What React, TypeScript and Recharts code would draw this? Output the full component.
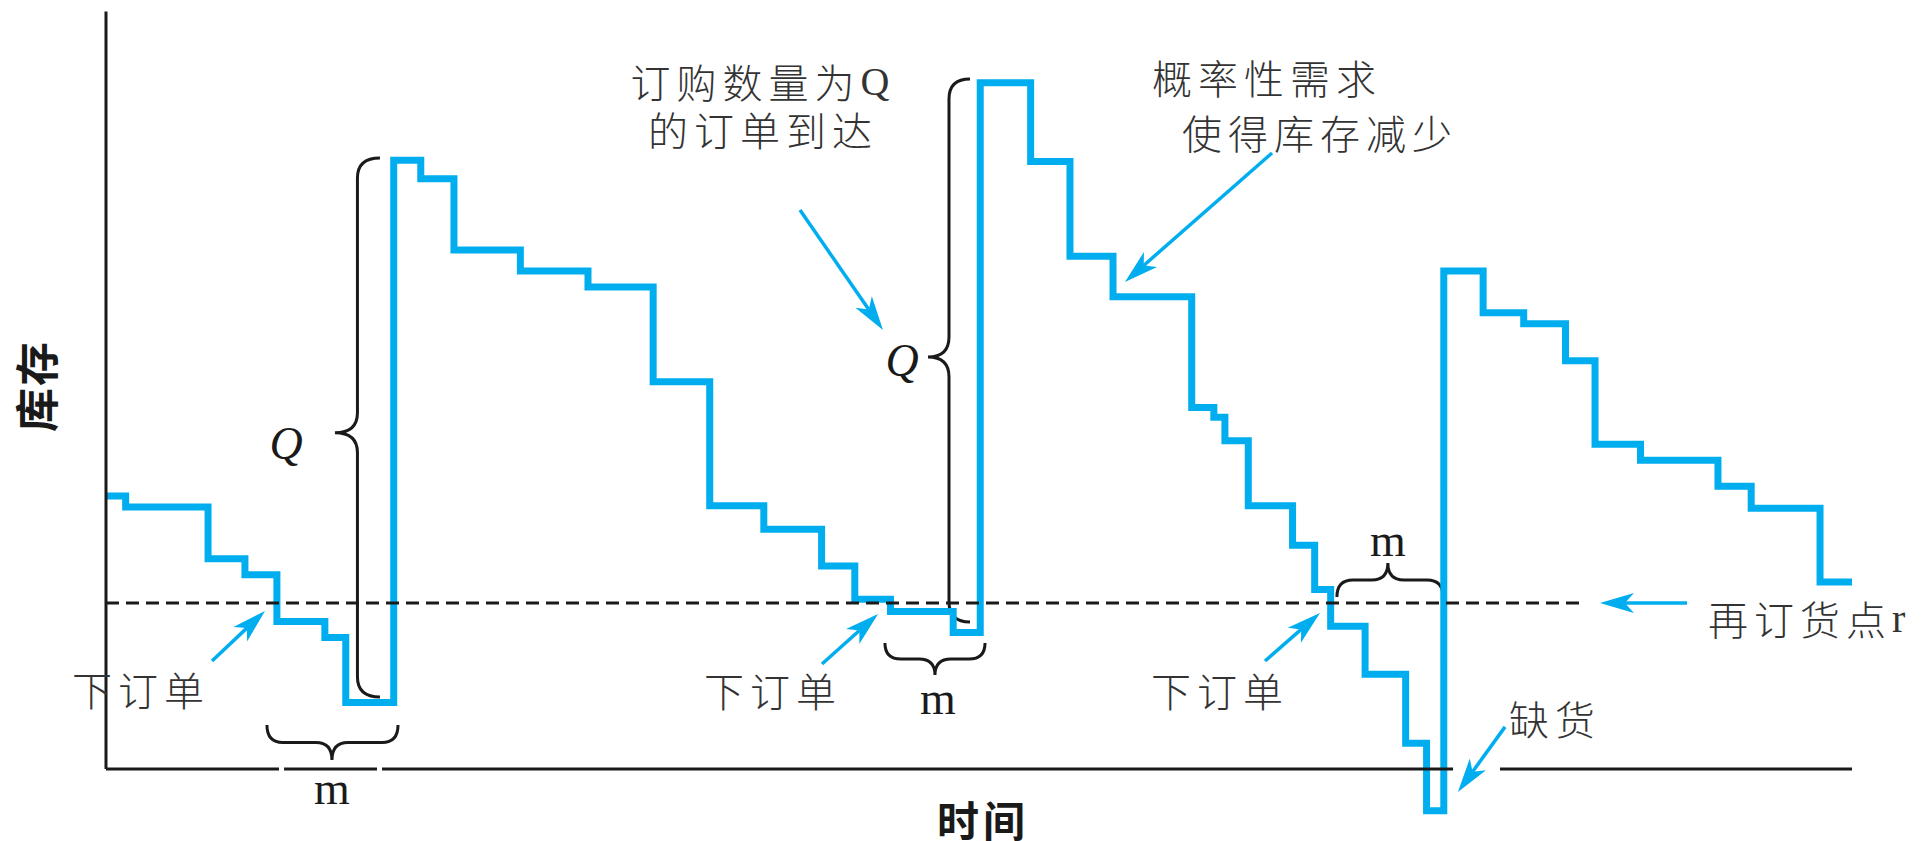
import { LineChart, Line, XAxis, YAxis, ReferenceLine, ReferenceArea, ReferenceDot } from 'recharts'

const W = 1928
const H = 841

// 时间（横轴单位）与库存（纵轴单位）
const timeT = [
  0, 1.6, 8.3, 11.3, 13.9, 17.8, 19.5, 23.4, 25.6, 28.3, 33.7, 39.2, 44.5, 49.1, 53.5, 58.2,
  60.9, 63.8, 68.9, 71.1, 75.2, 78.4, 81.9, 88.3, 90.1, 91.0, 92.9, 96.5, 98.3, 99.6, 102.4,
  105.7, 107.4, 108.8, 112.0, 115.3, 118.7, 121.1, 124.8, 131.1, 133.8, 139.4, 142.0,
]
const stockV = [
  22.2, 21.3, 17.1, 15.8, 12.0, 10.7, 5.4, 49.5, 48.0, 42.2, 40.5, 39.2, 31.5, 21.4, 19.5, 16.5,
  13.8, 12.8, 11.1, 55.8, 49.4, 41.7, 38.4, 29.4, 28.6, 26.7, 21.4, 18.2, 14.6, 11.6, 7.7,
  2.1, -3.4, 40.5, 37.1, 36.2, 33.2, 26.4, 25.1, 23.0, 21.2, 15.2, 15.2,
]
const reorderPoint = 13.5
const axisTop = 61.6
const axisEnd = 142
// x axis is broken where labels sit
const xAxisSpans = [
  [0, 14.07],
  [14.48, 22.04],
  [22.45, 109.55],
  [113.37, axisEnd],
]
const reorderEnd = 120.1

const X_DOMAIN = [-8.62, 148.18]
const Y_DOMAIN = [-5.86, 62.54]

const BLUE = '#00aeef'
const INK = '#1a1a1a'
const TEXT = '#333'
const CJK = "'Noto Sans CJK SC', sans-serif"
const SERIF = "'Liberation Serif', 'DejaVu Serif', serif"

type Arrow = { from: [number, number]; to: [number, number] }
const arrows: Arrow[] = [
  { from: [8.62, 8.78], to: [12.93, 12.85] },
  { from: [58.23, 8.54], to: [62.79, 12.61] },
  { from: [94.26, 8.78], to: [98.73, 12.69] },
  { from: [56.44, 45.46], to: [63.19, 35.7] },
  { from: [94.83, 50.1], to: [82.87, 39.61] },
  { from: [113.78, 3.42], to: [109.95, -1.87] },
  { from: [128.58, reorderPoint], to: [121.5, reorderPoint] },
]

type Brace = { x1: number; x2: number; y1: number; y2: number; dir: 'left' | 'down' | 'up'; tip: number }
const braces: Brace[] = [
  { x1: 18.62, x2: 22.28, y1: 5.86, y2: 49.69, dir: 'left', tip: 0.51 },
  { x1: 66.85, x2: 70.27, y1: 11.96, y2: 56.12, dir: 'left', tip: 0.512 },
  { x1: 13.09, x2: 23.75, y1: 0.73, y2: 3.58, dir: 'down', tip: 0.496 },
  { x1: 63.35, x2: 71.49, y1: 7.64, y2: 10.25, dir: 'down', tip: 0.5 },
  { x1: 100.11, x2: 108.74, y1: 13.99, y2: 16.75, dir: 'up', tip: 0.48 },
]

const orderLabels = [
  [2.85, 6.5],
  [54.24, 6.42],
  [90.6, 6.42],
]
const mLabels = [
  [18.38, -1.55],
  [67.66, 5.77],
  [104.26, 18.62],
]
const qLabels = [
  [14.64, 26.51],
  [64.74, 33.18],
]

const data = timeT.map((t, i) => ({ t, v: stockV[i] }))

const arrowShape = (p: any) => {
  const { x1, y1, x2, y2 } = p
  const dx = x2 - x1
  const dy = y2 - y1
  const len = Math.hypot(dx, dy) || 1
  const ux = dx / len
  const uy = dy / len
  const nx = -uy
  const ny = ux
  const hl = 34
  const hw = 10
  const notch = 9
  const bx = x2 - ux * hl
  const by = y2 - uy * hl
  const mx = x2 - ux * (hl - notch)
  const my = y2 - uy * (hl - notch)
  return (
    <g>
      <line x1={x1} y1={y1} x2={mx} y2={my} stroke={BLUE} strokeWidth={3.5} />
      <path
        d={`M${x2},${y2} L${bx + nx * hw},${by + ny * hw} L${mx},${my} L${bx - nx * hw},${by - ny * hw} Z`}
        fill={BLUE}
      />
    </g>
  )
}

const braceShape = (dir: Brace['dir'], tip: number) => (p: any) => {
  const { x, y, width: w, height: h } = p
  let d = ''
  if (dir === 'left') {
    const r = 20
    const R = x + w
    const S = x + w * 0.5
    const B = y + h
    const ty = y + h * tip
    d = `M${R},${y} Q${S},${y} ${S},${y + r} L${S},${ty - r} Q${S},${ty} ${x},${ty} Q${S},${ty} ${S},${ty + r} L${S},${B - r} Q${S},${B} ${R},${B}`
  } else {
    const r = 16
    const R = x + w
    const tx = x + w * tip
    const end = dir === 'down' ? y : y + h
    const tp = dir === 'down' ? y + h : y
    const M = (end + tp) / 2
    d = `M${x},${end} Q${x},${M} ${x + r},${M} L${tx - r},${M} Q${tx},${M} ${tx},${tp} Q${tx},${M} ${tx + r},${M} L${R - r},${M} Q${R},${M} ${R},${end}`
  }
  return <path d={d} fill="none" stroke={INK} strokeWidth={3} />
}

const textAt = (content: React.ReactNode, opts: any = {}) => (p: any) => (
  <text
    x={p.cx}
    y={p.cy}
    textAnchor={opts.anchor ?? 'middle'}
    dominantBaseline="central"
    fontFamily={opts.family ?? CJK}
    fontSize={opts.size ?? 40}
    fontWeight={opts.weight ?? 300}
    fontStyle={opts.style ?? 'normal'}
    letterSpacing={opts.spacing ?? 6}
    fill={opts.fill ?? TEXT}
    transform={opts.rotate ? `rotate(${opts.rotate} ${p.cx} ${p.cy})` : undefined}
  >
    {content}
  </text>
)

export default function App() {
  return (
    <div style={{ position: 'absolute', left: 0, top: 0, width: W, height: H, background: '#fff' }}>
      <LineChart width={W} height={H} data={data} margin={{ top: 0, right: 0, bottom: 0, left: 0 }}>
        <XAxis dataKey="t" type="number" domain={X_DOMAIN} allowDataOverflow hide />
        <YAxis type="number" domain={Y_DOMAIN} allowDataOverflow hide />

        <Line
          dataKey="v"
          type="stepAfter"
          stroke={BLUE}
          strokeWidth={7}
          dot={false}
          activeDot={false}
          isAnimationActive={false}
        />

        {/* axes */}
        <ReferenceLine
          segment={[
            { x: 0, y: 0 },
            { x: 0, y: axisTop },
          ]}
          stroke={INK}
          strokeWidth={3}
        />
        {xAxisSpans.map(([a, b], i) => (
          <ReferenceLine
            key={`xa-${i}`}
            segment={[
              { x: a, y: 0 },
              { x: b, y: 0 },
            ]}
            stroke={INK}
            strokeWidth={3}
          />
        ))}
        <ReferenceLine
          segment={[
            { x: 0, y: reorderPoint },
            { x: reorderEnd, y: reorderPoint },
          ]}
          stroke={INK}
          strokeWidth={3}
          strokeDasharray="13 7"
        />

        {braces.map((b, i) => (
          <ReferenceArea
            key={`br-${i}`}
            x1={b.x1}
            x2={b.x2}
            y1={b.y1}
            y2={b.y2}
            shape={braceShape(b.dir, b.tip)}
          />
        ))}

        {arrows.map((a, i) => (
          <ReferenceLine
            key={`ar-${i}`}
            segment={[
              { x: a.from[0], y: a.from[1] },
              { x: a.to[0], y: a.to[1] },
            ]}
            shape={arrowShape}
          />
        ))}

        {/* axis titles */}
        <ReferenceDot x={-5.77} y={31.15} r={0} shape={textAt('库存', { size: 44, weight: 700, rotate: -90, spacing: 2, fill: INK })} />
        <ReferenceDot x={71.32} y={-3.99} r={0} shape={textAt('时间', { size: 42, weight: 700, spacing: 4, fill: INK })} />

        {orderLabels.map(([t, v], i) => (
          <ReferenceDot key={`ol-${i}`} x={t} y={v} r={0} shape={textAt('下订单')} />
        ))}
        {mLabels.map(([t, v], i) => (
          <ReferenceDot key={`ml-${i}`} x={t} y={v} r={0} shape={textAt('m', { family: SERIF, size: 46, weight: 400, spacing: 0, fill: INK })} />
        ))}
        {qLabels.map(([t, v], i) => (
          <ReferenceDot key={`ql-${i}`} x={t} y={v} r={0} shape={textAt('Q', { family: SERIF, size: 46, weight: 400, style: 'italic', spacing: 0, fill: INK })} />
        ))}

        <ReferenceDot
          x={53.43}
          y={55.95}
          r={0}
          shape={textAt(
            <>
              <tspan>订购数量为</tspan>
              <tspan fontFamily={SERIF} fontWeight={400}>Q</tspan>
            </>,
          )}
        />
        <ReferenceDot x={53.43} y={52.05} r={0} shape={textAt('的订单到达')} />
        <ReferenceDot x={94.42} y={56.28} r={0} shape={textAt('概率性需求')} />
        <ReferenceDot x={98.73} y={51.8} r={0} shape={textAt('使得库存减少')} />
        <ReferenceDot x={117.84} y={4.15} r={0} shape={textAt('缺货')} />
        <ReferenceDot
          x={130.29}
          y={12.28}
          r={0}
          shape={textAt(
            <>
              <tspan>再订货点</tspan>
              <tspan fontFamily={SERIF} fontWeight={400}>r</tspan>
            </>,
            { anchor: 'start' },
          )}
        />
      </LineChart>
    </div>
  )
}
